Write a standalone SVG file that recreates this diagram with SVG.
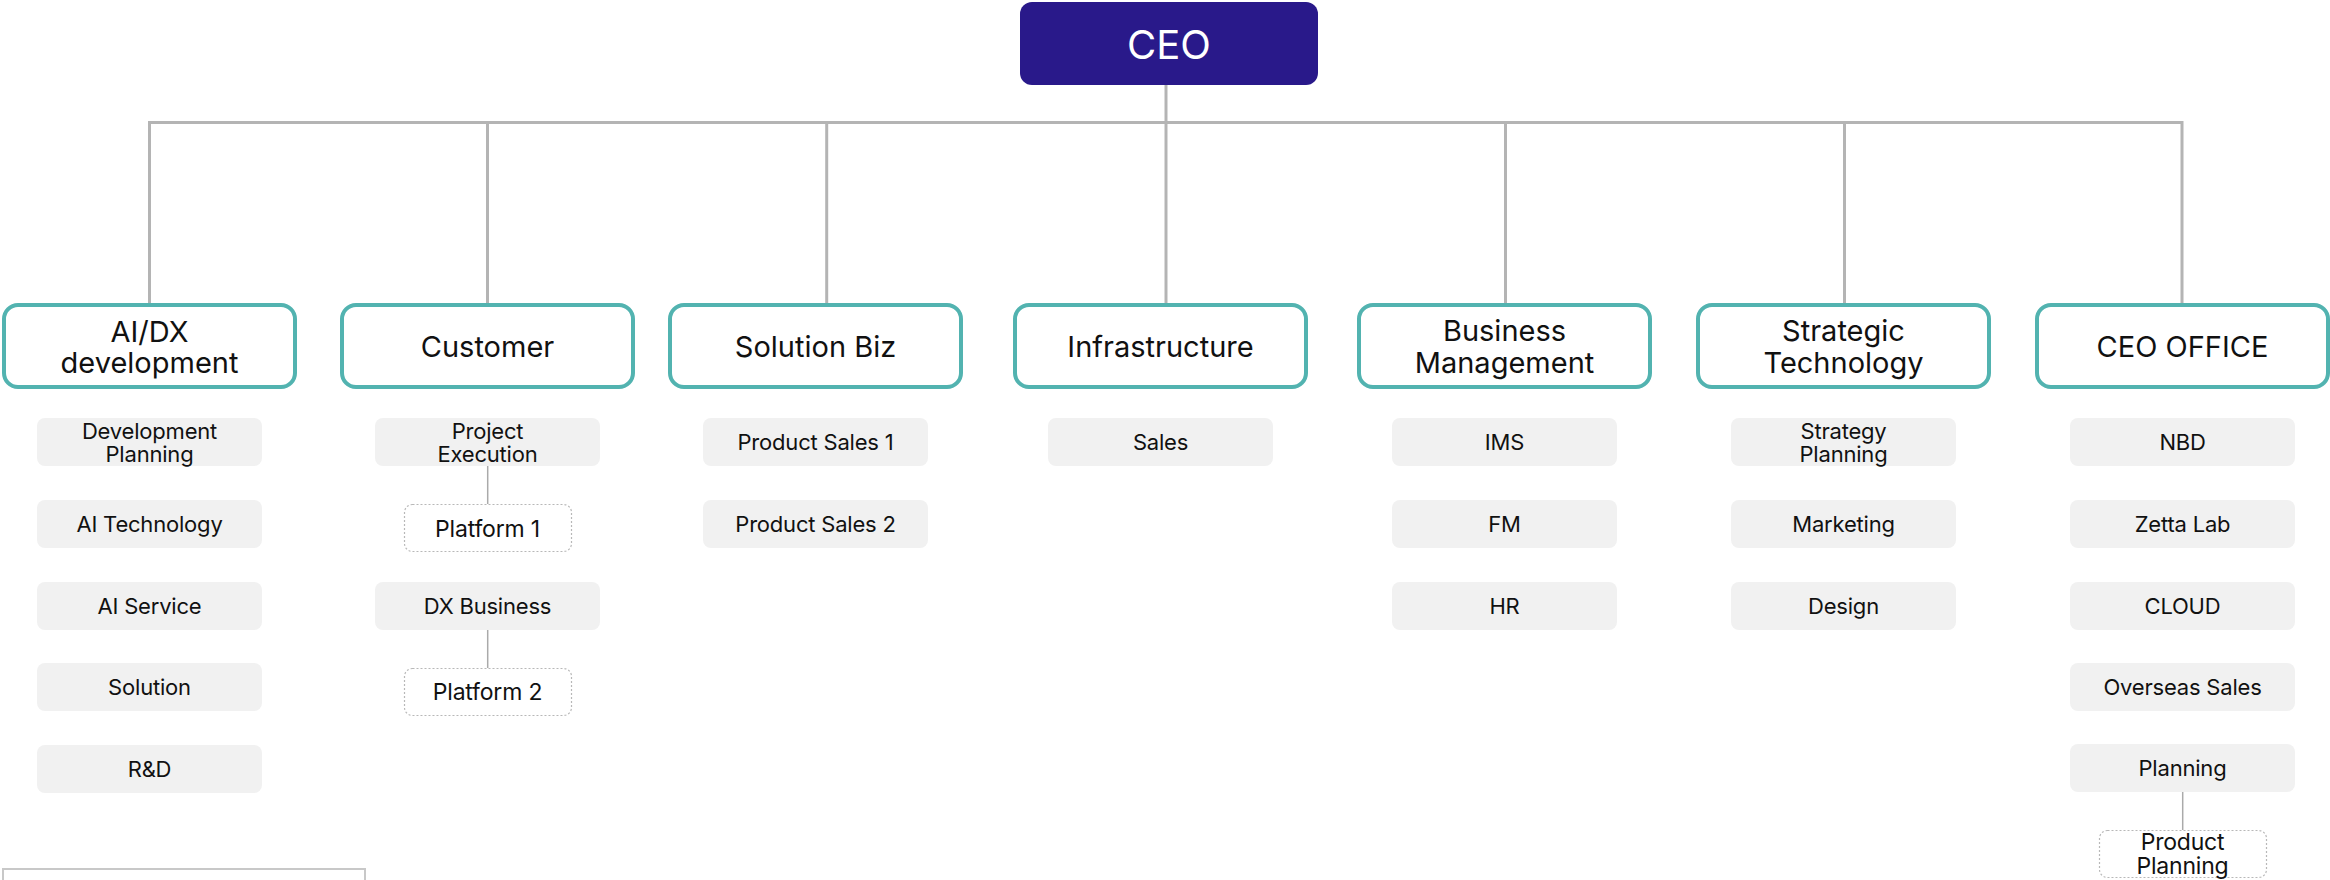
<svg xmlns="http://www.w3.org/2000/svg" width="2330" height="880" viewBox="0 0 2330 880">
<style>
  .ceo { fill: #29198a; }
  .ceo-t { font-family: Inter, "Liberation Sans", sans-serif; font-size: 40px; fill: #ffffff; text-anchor: middle; }
  .dept { fill: #ffffff; stroke: #52b3b0; stroke-width: 4; }
  .dept-t { font-family: Inter, "Liberation Sans", sans-serif; font-size: 29px; fill: #111111; text-anchor: middle; }
  .team { fill: #f1f1f1; }
  .team-t { font-family: Inter, "Liberation Sans", sans-serif; font-size: 22px; fill: #111111; text-anchor: middle; letter-spacing: -0.2px; }
  .sub { fill: #ffffff; stroke: #b8b8b8; stroke-width: 1.2; stroke-dasharray: 2 2; }
  .sub-t { font-family: Inter, "Liberation Sans", sans-serif; font-size: 23px; fill: #111111; text-anchor: middle; letter-spacing: -0.2px; }
  .conn { fill: none; stroke: #b4b4b4; stroke-width: 3; }
  .conn-thin { fill: none; stroke: #aaaaaa; stroke-width: 1.5; }
</style>

<g id="connectors">
  <path class="conn" d="M1166 85 V122.5"/>
  <path class="conn" d="M149.5 305 V122.5 H2182 V305"/>
  <path class="conn" d="M487.5 122.5 V305"/>
  <path class="conn" d="M826.7 122.5 V305"/>
  <path class="conn" d="M1166 122.5 V305"/>
  <path class="conn" d="M1505.5 122.5 V305"/>
  <path class="conn" d="M1844.5 122.5 V305"/>
  <path class="conn-thin" d="M487.7 466 V504"/>
  <path class="conn-thin" d="M487.7 630 V668"/>
  <path class="conn-thin" d="M2182.7 792 V830"/>
</g>

<g id="ceo">
  <rect class="ceo" x="1020" y="2" width="298" height="83" rx="12"/>
  <text class="ceo-t" x="1169" y="59">CEO</text>
</g>

<g id="dept-aidx">
  <rect class="dept" x="4" y="305" width="291" height="82" rx="14"/>
  <text class="dept-t" x="149.5" y="342">AI/DX</text>
  <text class="dept-t" x="149.5" y="373">development</text>
</g>
<g id="dept-customer">
  <rect class="dept" x="342" y="305" width="291" height="82" rx="14"/>
  <text class="dept-t" x="487.5" y="357">Customer</text>
</g>
<g id="dept-solution">
  <rect class="dept" x="670" y="305" width="291" height="82" rx="14"/>
  <text class="dept-t" x="815.5" y="357">Solution Biz</text>
</g>
<g id="dept-infra">
  <rect class="dept" x="1015" y="305" width="291" height="82" rx="14"/>
  <text class="dept-t" x="1160.5" y="357">Infrastructure</text>
</g>
<g id="dept-business">
  <rect class="dept" x="1359" y="305" width="291" height="82" rx="14"/>
  <text class="dept-t" x="1504.5" y="341">Business</text>
  <text class="dept-t" x="1504.5" y="373">Management</text>
</g>
<g id="dept-strategic">
  <rect class="dept" x="1698" y="305" width="291" height="82" rx="14"/>
  <text class="dept-t" x="1843.5" y="341">Strategic</text>
  <text class="dept-t" x="1843.5" y="373">Technology</text>
</g>
<g id="dept-ceooffice">
  <rect class="dept" x="2037" y="305" width="291" height="82" rx="14"/>
  <text class="dept-t" x="2182.5" y="357">CEO OFFICE</text>
</g>

<!-- AI/DX teams -->
<g id="team-devplanning">
  <rect class="team" x="37" y="418" width="225" height="48" rx="8"/>
  <text class="team-t" x="149.5" y="439">Development</text>
  <text class="team-t" x="149.5" y="462">Planning</text>
</g>
<g id="team-aitech">
  <rect class="team" x="37" y="500" width="225" height="48" rx="8"/>
  <text class="team-t" x="149.5" y="532">AI Technology</text>
</g>
<g id="team-aiservice">
  <rect class="team" x="37" y="582" width="225" height="48" rx="8"/>
  <text class="team-t" x="149.5" y="614">AI Service</text>
</g>
<g id="team-solution">
  <rect class="team" x="37" y="663" width="225" height="48" rx="8"/>
  <text class="team-t" x="149.5" y="695">Solution</text>
</g>
<g id="team-rnd">
  <rect class="team" x="37" y="745" width="225" height="48" rx="8"/>
  <text class="team-t" x="149.5" y="777">R&amp;D</text>
</g>

<!-- Customer teams -->
<g id="team-projexec">
  <rect class="team" x="375" y="418" width="225" height="48" rx="8"/>
  <text class="team-t" x="487.5" y="439">Project</text>
  <text class="team-t" x="487.5" y="462">Execution</text>
</g>
<g id="sub-platform1">
  <rect class="sub" x="404.5" y="504.5" width="167" height="47" rx="8"/>
  <text class="sub-t" x="487.5" y="537">Platform 1</text>
</g>
<g id="team-dxbusiness">
  <rect class="team" x="375" y="582" width="225" height="48" rx="8"/>
  <text class="team-t" x="487.5" y="614">DX Business</text>
</g>
<g id="sub-platform2">
  <rect class="sub" x="404.5" y="668.5" width="167" height="47" rx="8"/>
  <text class="sub-t" x="487.5" y="700">Platform 2</text>
</g>

<!-- Solution Biz teams -->
<g id="team-ps1">
  <rect class="team" x="703" y="418" width="225" height="48" rx="8"/>
  <text class="team-t" x="815.5" y="450">Product Sales 1</text>
</g>
<g id="team-ps2">
  <rect class="team" x="703" y="500" width="225" height="48" rx="8"/>
  <text class="team-t" x="815.5" y="532">Product Sales 2</text>
</g>

<!-- Infrastructure teams -->
<g id="team-sales">
  <rect class="team" x="1048" y="418" width="225" height="48" rx="8"/>
  <text class="team-t" x="1160.5" y="450">Sales</text>
</g>

<!-- Business Management teams -->
<g id="team-ims">
  <rect class="team" x="1392" y="418" width="225" height="48" rx="8"/>
  <text class="team-t" x="1504.5" y="450">IMS</text>
</g>
<g id="team-fm">
  <rect class="team" x="1392" y="500" width="225" height="48" rx="8"/>
  <text class="team-t" x="1504.5" y="532">FM</text>
</g>
<g id="team-hr">
  <rect class="team" x="1392" y="582" width="225" height="48" rx="8"/>
  <text class="team-t" x="1504.5" y="614">HR</text>
</g>

<!-- Strategic Technology teams -->
<g id="team-stratplanning">
  <rect class="team" x="1731" y="418" width="225" height="48" rx="8"/>
  <text class="team-t" x="1843.5" y="439">Strategy</text>
  <text class="team-t" x="1843.5" y="462">Planning</text>
</g>
<g id="team-marketing">
  <rect class="team" x="1731" y="500" width="225" height="48" rx="8"/>
  <text class="team-t" x="1843.5" y="532">Marketing</text>
</g>
<g id="team-design">
  <rect class="team" x="1731" y="582" width="225" height="48" rx="8"/>
  <text class="team-t" x="1843.5" y="614">Design</text>
</g>

<!-- CEO OFFICE teams -->
<g id="team-nbd">
  <rect class="team" x="2070" y="418" width="225" height="48" rx="8"/>
  <text class="team-t" x="2182.5" y="450">NBD</text>
</g>
<g id="team-zetta">
  <rect class="team" x="2070" y="500" width="225" height="48" rx="8"/>
  <text class="team-t" x="2182.5" y="532">Zetta Lab</text>
</g>
<g id="team-cloud">
  <rect class="team" x="2070" y="582" width="225" height="48" rx="8"/>
  <text class="team-t" x="2182.5" y="614">CLOUD</text>
</g>
<g id="team-overseas">
  <rect class="team" x="2070" y="663" width="225" height="48" rx="8"/>
  <text class="team-t" x="2182.5" y="695">Overseas Sales</text>
</g>
<g id="team-planning">
  <rect class="team" x="2070" y="744" width="225" height="48" rx="8"/>
  <text class="team-t" x="2182.5" y="776">Planning</text>
</g>
<g id="sub-prodplanning">
  <rect class="sub" x="2099.5" y="830.5" width="167" height="47" rx="8"/>
  <text class="sub-t" x="2182.5" y="850">Product</text>
  <text class="sub-t" x="2182.5" y="874">Planning</text>
</g>

<g id="legend-box">
  <rect x="3" y="869" width="362" height="30" fill="#ffffff" stroke="#c8c8c8" stroke-width="2"/>
</g>
</svg>
